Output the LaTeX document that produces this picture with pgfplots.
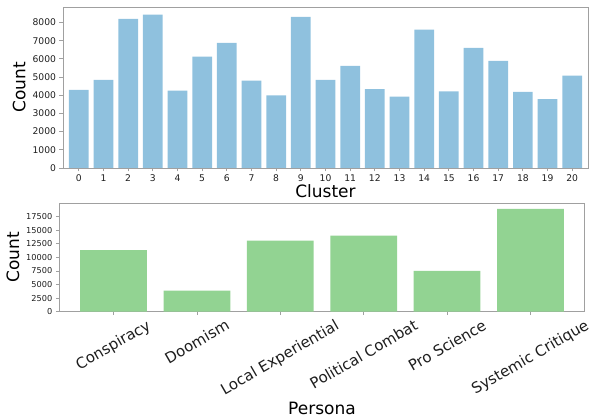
\documentclass[border=0pt]{standalone}
\usepackage{pgfplots}
\pgfplotsset{compat=1.18}
\usepackage{fontspec}
\setmainfont{DejaVu Sans}
\usepackage{graphicx}
\definecolor{barblue}{RGB}{143,193,222}
\definecolor{bargreen}{RGB}{146,211,146}
\definecolor{framegray}{RGB}{160,160,160}
\definecolor{txt}{RGB}{30,30,30}
\begin{document}
\begin{tikzpicture}[x=1pt,y=1pt]
\useasboundingbox (0,0) rectangle (589,418);
\begin{axis}[
  at={(63pt,250pt)}, anchor=south west, scale only axis,
  width=525pt, height=161pt,
  xmin=-0.64, xmax=20.64, ymin=0, ymax=8850,
  xtick={0,...,20}, ytick={0,1000,...,8000},
  tick pos=left, tick align=outside, major tick length=3.5pt,
  tick style={framegray, line width=0.8pt},
  axis line style={framegray, line width=0.8pt},
  ticklabel style={font=\fontsize{9.2}{10}\selectfont, text=txt},
  /pgf/number format/assume math mode=true,
  scaled y ticks=false,
  yticklabel style={/pgf/number format/.cd, fixed, 1000 sep={}},
  xlabel={Cluster}, ylabel={Count},
  label style={font=\fontsize{17}{20}\selectfont, text=black},
  xlabel style={yshift=4pt},
  ybar, bar width=0.8,
]
\addplot[fill=barblue, draw=none] coordinates {
(0,4290) (1,4840) (2,8200) (3,8430) (4,4250) (5,6125) (6,6880) (7,4800)
(8,3995) (9,8310) (10,4840) (11,5610) (12,4340) (13,3920) (14,7600)
(15,4215) (16,6600) (17,5890) (18,4180) (19,3790) (20,5075)};
\end{axis}
\begin{axis}[
  at={(59.3pt,106.3pt)}, anchor=south west, scale only axis,
  width=525.4pt, height=108.4pt,
  xmin=-0.65, xmax=5.65, ymin=0, ymax=19950,
  xtick={0,...,5}, ytick={0,2500,...,17500},
  xticklabels={\rotatebox{30}{Conspiracy},\rotatebox{30}{Doomism},\rotatebox{30}{Local Experiential},\rotatebox{30}{Political Combat},\rotatebox{30}{Pro Science},\rotatebox{30}{Systemic Critique}},
  tick pos=left, tick align=outside, major tick length=3.5pt,
  tick style={framegray, line width=0.8pt},
  axis line style={framegray, line width=0.8pt},
  yticklabel style={font=\fontsize{8.2}{9}\selectfont, text=txt},
  xticklabel style={font=\fontsize{15}{18}\selectfont, text=txt, anchor=north},
  /pgf/number format/assume math mode=true,
  scaled y ticks=false,
  yticklabel style={/pgf/number format/.cd, fixed, 1000 sep={}},
  xlabel={Persona}, ylabel={Count},
  label style={font=\fontsize{17}{20}\selectfont, text=black},
  xlabel style={yshift=3pt},
  ybar, bar width=0.8,
]
\addplot[fill=bargreen, draw=none] coordinates {
(0,11310) (1,3870) (2,13080) (3,14000) (4,7500) (5,18920)};
\end{axis}
\end{tikzpicture}
\end{document}
